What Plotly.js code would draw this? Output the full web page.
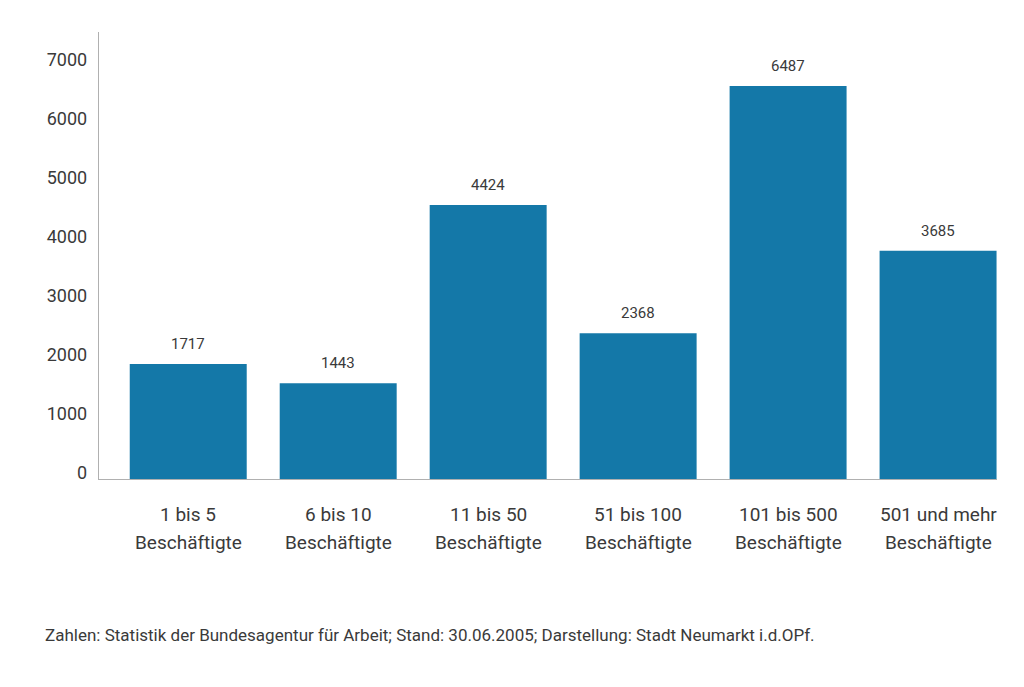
<!DOCTYPE html>
<html>
<head>
<meta charset="utf-8">
<script src="https://cdn.plot.ly/plotly-3.0.1.min.js"></script>
<style>html,body{margin:0;padding:0;background:#fff;}#chart{width:1024px;height:687px;}</style>
</head>
<body>
<div id="chart"></div>
<script>
const categories = ["1 bis 5", "6 bis 10", "11 bis 50", "51 bis 100", "101 bis 500", "501 und mehr"];
const line2 = ["Beschäftigte", "Beschäftigte", "Beschäftigte", "Beschäftigte", "Beschäftigte", "Beschäftigte"];
// bar heights as drawn in the picture
const values = [1847, 1520, 4542, 2368, 6559, 3768];
// printed value labels
const labels = ["1717", "1443", "4424", "2368", "6487", "3685"];
const yTicks = [0, 1000, 2000, 3000, 4000, 5000, 6000, 7000];
const footer = "Zahlen: Statistik der Bundesagentur für Arbeit; Stand: 30.06.2005; Darstellung: Stadt Neumarkt i.d.OPf.";

const yMin = -102, yMax = 7475;
const FONT = "Roboto, 'DejaVu Sans', sans-serif";
const TXT = "#3a3a3a";

const trace = {
  type: "bar",
  x: categories,
  y: values.map(v => v - yMin),
  base: values.map(() => yMin),
  marker: {color: "#1478a8", line: {width: 0}},
  hoverinfo: "skip"
};

const annotations = [];
categories.forEach((c, i) => {
  annotations.push({x: c, y: values[i], xref: "x", yref: "y", text: labels[i],
    showarrow: false, yshift: 20, yanchor: "middle", font: {family: FONT, size: 15, color: TXT}});
  annotations.push({x: c, y: -0.0805, xref: "x", yref: "paper", text: c,
    showarrow: false, yanchor: "middle", font: {family: FONT, size: 19, color: TXT}});
  annotations.push({x: c, y: -0.143, xref: "x", yref: "paper", text: line2[i],
    showarrow: false, yanchor: "middle", font: {family: FONT, size: 19, color: TXT}});
});
annotations.push({x: -0.0624, y: -0.349, xref: "paper", yref: "paper", text: footer,
  showarrow: false, xanchor: "left", yanchor: "middle", font: {family: FONT, size: 17, color: TXT}});

const layout = {
  width: 1024, height: 687,
  margin: {l: 99, r: 27, t: 32, b: 208},
  paper_bgcolor: "#fff", plot_bgcolor: "#fff",
  showlegend: false,
  bargap: 0.22,
  font: {family: FONT, color: TXT},
  xaxis: {type: "category", range: [-0.595, 5.393], showticklabels: false, ticks: "",
    showline: true, linecolor: "#b0b0b0", linewidth: 1.2, showgrid: false, zeroline: false, fixedrange: true},
  yaxis: {range: [yMin, yMax], tickvals: yTicks, ticktext: yTicks.map(String), ticks: "",
    ticklabelstandoff: 7, showline: true, linecolor: "#b0b0b0", linewidth: 1.2,
    showgrid: false, zeroline: false, tickfont: {family: FONT, size: 18, color: TXT}, fixedrange: true},
  annotations: annotations
};

Plotly.newPlot("chart", [trace], layout, {displayModeBar: false, staticPlot: true});
</script>
</body>
</html>
